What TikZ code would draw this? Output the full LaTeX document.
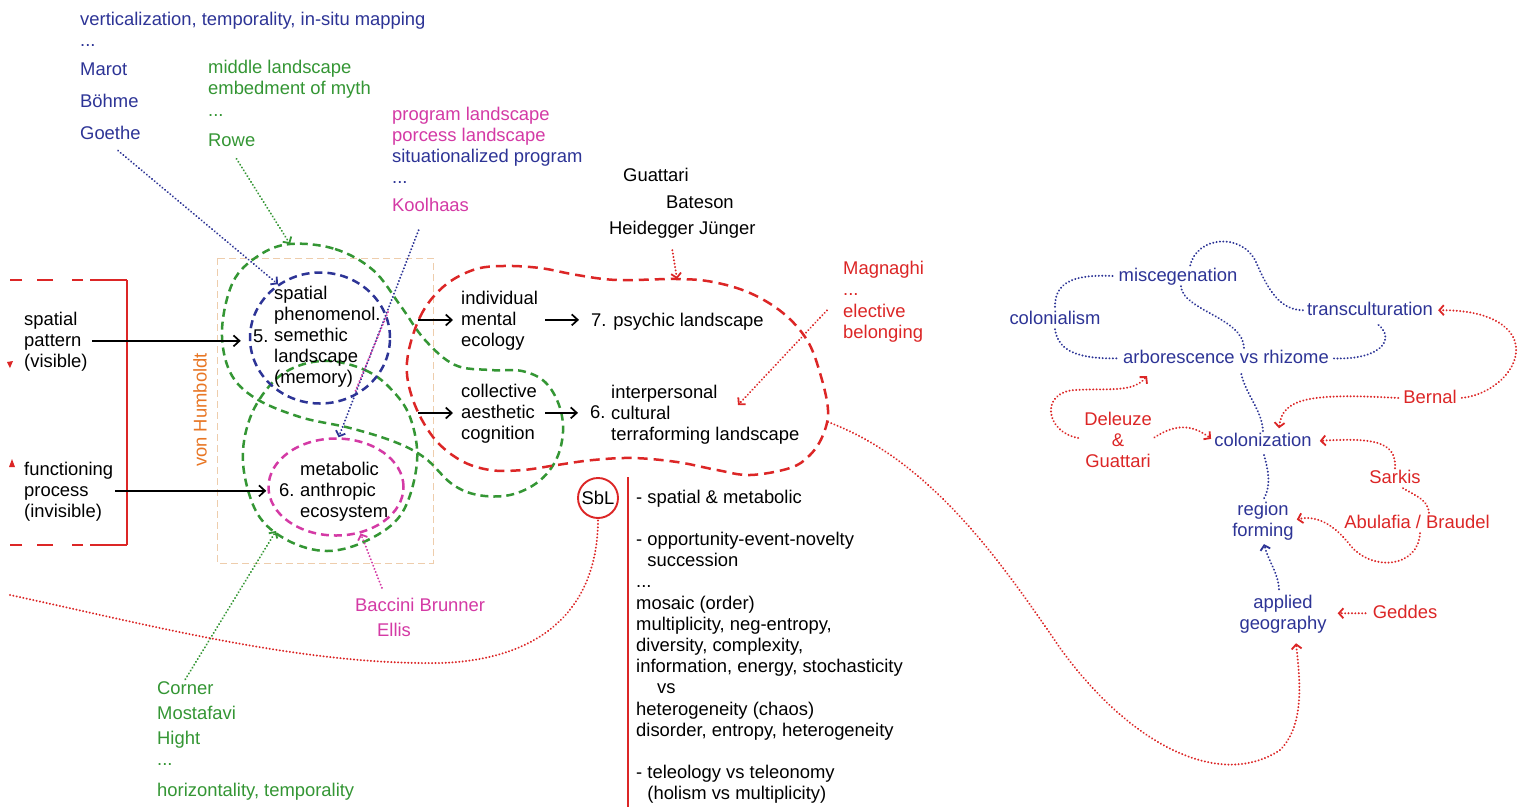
\documentclass[tikz,border=0pt]{standalone}
\usepackage{fontspec}
\setmainfont{Liberation Sans}
\usetikzlibrary{arrows.meta,shapes.geometric,calc}
\definecolor{cblue}{RGB}{45,52,150}
\definecolor{cgreen}{RGB}{52,150,52}
\definecolor{cmag}{RGB}{212,58,165}
\definecolor{cred}{RGB}{220,38,38}
\definecolor{corange}{RGB}{232,118,36}
\definecolor{ctan}{RGB}{238,205,172}
\newcommand\mystrut{\rule[-5pt]{0pt}{19.5pt}}
\tikzset{
  tl/.style={inner sep=0pt, anchor=north west, yshift=9.7pt, align=left, font=\fontsize{18.4}{21.2}\selectfont},
  tc/.style={tl, anchor=north, align=center},
  dotl/.style={line width=2.1pt, dash pattern=on 0.1pt off 3.3pt, line cap=round},
  dtip/.style={-{Straight Barb[length=4.5pt,width=10pt,line width=1.8pt]}},
  barr/.style={line width=1.7pt, -{Straight Barb[length=6pt,width=11pt]}},
  gdash/.style={line width=2.5pt, dash pattern=on 8pt off 5pt},
  rdash/.style={line width=2.5pt, dash pattern=on 10pt off 6pt},
  brk/.style={cred, line width=2.2pt, dash pattern=on 37pt off 7pt on 11pt off 19pt on 16pt off 15pt on 12pt off 30pt},
}
\begin{document}
\begin{tikzpicture}[x=1pt,y=-1pt]
\fill[white] (0,0) rectangle (1530,807);
\useasboundingbox (0,0) rectangle (1530,807);

% ---------- background shapes ----------
\draw[ctan, line width=1pt, dash pattern=on 7pt off 4pt] (217,258) rectangle (433,563);

\draw[cgreen, gdash] plot[smooth cycle, tension=0.6] coordinates {
 (290,244) (335,249) (373,270) (400,305) (425,340) (455,365) (490,370) (522,371)
 (545,382) (559,405) (563,432) (556,460) (538,482) (510,495) (478,495) (452,484)
 (425,458) (395,442) (350,428) (300,417) (255,398) (230,372) (222,330) (233,282) (258,256)};
\draw[cgreen, gdash] plot[smooth cycle, tension=0.6] coordinates {
 (330,361) (365,370) (390,388) (410,417) (417,462) (402,513) (368,540) (327,551)
 (287,540) (257,513) (243,463) (250,418) (272,383) (298,366)};

\node[ellipse, draw=cblue, gdash, minimum width=140pt, minimum height=131pt, inner sep=0pt] (blueE) at (320,338) {};
\node[ellipse, draw=cmag, gdash, minimum width=135pt, minimum height=97pt, inner sep=0pt] (magE) at (336,487) {};

\draw[cred, rdash] plot[smooth cycle, tension=0.6] coordinates {
 (407,362) (420,317) (443,287) (473,270) (503,266) (540,268) (577,275) (617,280)
 (677,279) (713,282) (750,293) (783,313) (807,340) (820,373) (828,410) (823,435)
 (810,455) (790,468) (750,475) (717,470) (677,462) (633,458) (593,460) (557,465)
 (523,470) (490,470) (460,460) (433,437) (413,400)};

\coordinate (gtop) at (290,244);
\coordinate (gB1) at (276,531);
\coordinate (rbtop) at (677,279);
\coordinate (rbin) at (738,405);
\coordinate (rb1) at (828,422);
\coordinate (lc0) at (10,595);
\coordinate (mg1) at (388,312);
\coordinate (mg2) at (355,392);
\coordinate (a1) at (418,320);
\coordinate (a2) at (418,413);

% red bracket
\coordinate (bk0) at (10,280); \coordinate (bk1) at (127,280);
\coordinate (bk2) at (127,545); \coordinate (bk3) at (10,545);
\draw[brk] (bk1) -- (bk0);
\draw[brk] (bk2) -- (bk3);
\draw[cred, line width=2.2pt] (bk1) -- (bk2);
\fill[cred] (7,362) -- (13,361) -- (10,368) -- cycle;
\fill[cred] (9,467) -- (12,459) -- (15,467) -- cycle;

% red vertical rule
\coordinate (rv0) at (628,477); \coordinate (rv1) at (628,807);
\draw[cred, line width=2.2pt] (rv0) -- (rv1);

% ---------- texts ----------
\node[tl,text=cblue] (vert) at (80,20) {\mystrut verticalization, temporality, in-situ mapping};
\node[tl,text=cblue] (bdots) at (80,41) {\mystrut ...};
\node[tl,text=cblue] (marot) at (80,70) {\mystrut Marot};
\node[tl,text=cblue] (bohme) at (80,102) {\mystrut Böhme};
\node[tl,text=cblue] (goethe) at (80,134) {\mystrut Goethe};
\node[tl,text=cgreen] (midl) at (208,68) {\mystrut middle landscape\\embedment of myth};
\node[tl,text=cgreen] (gdots) at (208,111) {\mystrut ...};
\node[tl,text=cgreen] (rowe) at (208,141) {\mystrut Rowe};
\node[tl,text=cmag] (prog) at (392,115) {\mystrut program landscape\\porcess landscape};
\node[tl,text=cblue] (situ) at (392,157) {\mystrut situationalized program};
\node[tl,text=cblue] (sdots) at (392,178) {\mystrut ...};
\node[tl,text=cmag] (kool) at (392,206) {\mystrut Koolhaas};
\node[tl] (guat) at (623,176) {\mystrut Guattari};
\node[tl] (bate) at (666,203) {\mystrut Bateson};
\node[tl] (heid) at (609,229) {\mystrut Heidegger Jünger};
\node[tl,text=cred] (magn) at (843,269) {\mystrut Magnaghi};
\node[tl,text=cred] (rdots) at (843,290) {\mystrut ...};
\node[tl,text=cred] (elect) at (843,312) {\mystrut elective\\belonging};

\node[tl] (sp) at (24,320) {\mystrut spatial\\pattern\\(visible)};
\node[tl] (fp) at (24,470) {\mystrut functioning\\process\\(invisible)};
\node[rotate=90, text=corange, inner sep=0pt, font=\fontsize{18.4}{21.2}\selectfont] (humb) at (200,410) {von Humboldt};

\node[tl] (semt) at (274,294) {\mystrut spatial\\phenomenol.\\semethic\\landscape\\(memory)};
\node[tl] (n5) at (253,337) {\mystrut 5.};
\node[tl] (metab) at (300,470) {\mystrut metabolic\\anthropic\\ecosystem};
\node[tl] (n6a) at (279,491) {\mystrut 6.};

\node[tl] (ind) at (461,299) {\mystrut individual\\mental\\ecology};
\node[tl] (col) at (461,392) {\mystrut collective\\aesthetic\\cognition};
\node[tl] (psy) at (591,321) {\mystrut 7. psychic landscape};
\node[tl] (inter) at (611,393) {\mystrut interpersonal\\cultural\\terraforming landscape};
\node[tl] (n6b) at (590,413) {\mystrut 6.};

\node[circle, draw=cred, line width=1.9pt, minimum size=40pt, inner sep=0pt, font=\fontsize{18.4}{21.2}\selectfont] (sbl) at (598,498) {SbL};

\node[tl] (list) at (636,498) {\mystrut - spatial \& metabolic\\[21.2pt]
- opportunity-event-novelty\\
\hspace*{11.2pt}succession\\
...\\
mosaic (order)\\
multiplicity, neg-entropy,\\
diversity, complexity,\\
information, energy, stochasticity\\
\hspace*{21pt}vs\\
heterogeneity (chaos)\\
disorder, entropy, heterogeneity\\[21.2pt]
- teleology vs teleonomy\\
\hspace*{11.2pt}(holism vs multiplicity)};

\node[tl,text=cgreen] (corner) at (157,689) {\mystrut Corner};
\node[tl,text=cgreen] (mosta) at (157,714) {\mystrut Mostafavi};
\node[tl,text=cgreen] (hight) at (157,739) {\mystrut Hight};
\node[tl,text=cgreen] (hdots) at (157,760) {\mystrut ...};
\node[tl,text=cgreen] (horiz) at (157,791) {\mystrut horizontality, temporality};
\node[tl,text=cmag] (bacc) at (355,606) {\mystrut Baccini Brunner};
\node[tl,text=cmag] (ellis) at (377,631) {\mystrut Ellis};

\node[tc,text=cblue] (misc) at (1178,276) {\mystrut miscegenation};
\node[tc,text=cblue] (colon) at (1055,319) {\mystrut colonialism};
\node[tc,text=cblue] (transc) at (1370,310) {\mystrut transculturation};
\node[tc,text=cblue] (arbor) at (1226,358) {\mystrut arborescence vs rhizome};
\node[tc,text=cblue] (coloniz) at (1263,441) {\mystrut colonization};
\node[tc,text=cred] (bernal) at (1430,398) {\mystrut Bernal};
\node[tc,text=cred] (del) at (1118,420) {\mystrut Deleuze\\\&\\Guattari};
\node[tc,text=cred] (sarkis) at (1395,478) {\mystrut Sarkis};
\node[tc,text=cred] (abul) at (1417,523) {\mystrut Abulafia / Braudel};
\node[tc,text=cblue] (region) at (1263,510) {\mystrut region\\forming};
\node[tc,text=cblue] (applied) at (1283,603) {\mystrut applied\\geography};
\node[tc,text=cred] (geddes) at (1405,613) {\mystrut Geddes};

% ---------- black arrows ----------
\draw[barr, shorten <=4.5pt, shorten >=8pt] (sp.east) -- (sp.east -| blueE.west);
\draw[barr, shorten <=2pt, shorten >=1pt] (fp.east) -- (fp.east -| magE.west);
\draw[barr, shorten >=8pt] (a1) -- (a1 -| ind.west);
\draw[barr, shorten >=8pt] (a2) -- (a2 -| col.west);
\draw[barr, shorten <=7pt, shorten >=12pt] (ind.east) -- (ind.east -| psy.west);
\draw[barr, shorten <=8pt, shorten >=12pt] (col.east) -- (col.east -| n6b.west);

% ---------- dotted connectors, left part ----------
\draw[dotl, cblue, dtip, shorten <=10pt] (goethe.south) -- (blueE.128);
\draw[dotl, cgreen, dtip, shorten <=9pt] (rowe.south) -- (gtop);
\draw[dotl, cblue, dtip] ($(kool.south)+(-12,14)$) -- (magE.87);
\draw[dotl, cmag] (mg1) -- (mg2);
\draw[dotl, cgreen, dtip] (corner.north) -- (gB1);
\draw[dotl, cmag, dtip, shorten <=9pt] ($(bacc.north)+(-35,0)$) -- (magE.-62);
\draw[dotl, cred, dtip] ($(heid.south)+(-10,11)$) -- (rbtop);
\draw[dotl, cred, dtip] ($(elect.west)+(-16,-12)$) -- (rbin);
\draw[dotl, cred] (lc0) .. controls (150,625) and (300,665) .. (440,663)
      .. controls (540,660) and (598,610) .. (sbl.south);
\draw[dotl, cred, dtip] (rb1) .. controls (930,460) and (1000,560) .. (1060,648)
      .. controls (1130,745) and (1220,790) .. (1280,750)
      .. controls (1305,725) and (1300,680) .. ($(applied.south)+(13,10)$);

% ---------- right network ----------
\draw[dotl, cblue, shorten <=6pt] (misc.west) .. controls (1070,274) and (1054,284) .. (colon.north);
\draw[dotl, cblue, shorten >=5pt] (colon.south) .. controls (1058,352) and (1080,359) .. (arbor.west);
\draw[dotl, cblue] ($(misc.south)+(3,0)$) .. controls (1182,310) and (1244,318) .. ($(arbor.north)+(18,0)$);
\draw[dotl, cblue, shorten <=4pt] (transc.west) .. controls (1280,310) and (1268,290) .. (1256,262)
      .. controls (1242,232) and (1196,236) .. ($(misc.north)+(12,0)$);
\draw[dotl, cblue, shorten <=5pt] (arbor.east) .. controls (1385,360) and (1396,336) .. ($(transc.south)+(6,3)$);
\draw[dotl, cblue, shorten <=6pt] ($(arbor.south)+(14,0)$) .. controls (1246,395) and (1262,410) .. (coloniz.north);
\draw[dotl, cblue, shorten <=4pt] (coloniz.south) .. controls (1268,470) and (1272,485) .. (region.north);
\draw[dotl, cblue, dtip, shorten <=4pt, shorten >=4pt] ($(applied.north)+(-4,0)$) .. controls (1279,575) and (1268,560) .. (region.south);

\draw[dotl, cred, dtip, shorten <=3pt, shorten >=4pt] (del.east) .. controls (1175,424) and (1192,424) .. (coloniz.west);
\draw[dotl, cred, dtip, shorten <=6pt] (del.west) .. controls (1045,432) and (1040,392) .. (1075,390)
      .. controls (1110,388) and (1132,393) .. ($(arbor.south west)+(24,8)$);
\draw[dotl, cred, dtip, shorten <=5pt] (bernal.west) .. controls (1310,393) and (1282,398) .. ($(coloniz.north)+(16,-3)$);
\draw[dotl, cred, dtip, shorten <=5pt, shorten >=5pt] (bernal.east) .. controls (1495,395) and (1528,362) .. (1512,335)
      .. controls (1498,314) and (1465,310) .. (transc.east);
\draw[dotl, cred, dtip, shorten >=8pt] (sarkis.north) .. controls (1397,440) and (1370,438) .. (coloniz.east);
\draw[dotl, cred] ($(sarkis.south)+(8,0)$) .. controls (1418,497) and (1428,500) .. ($(abul.north)+(12,0)$);
\draw[dotl, cred, dtip, shorten >=3pt] ($(abul.south)+(3,0)$) .. controls (1418,568) and (1372,572) .. (1350,545)
      .. controls (1333,523) and (1315,515) .. (region.east);
\draw[dotl, cred, dtip, shorten <=7pt, shorten >=11pt] (geddes.west) -- (applied.east);
\end{tikzpicture}
\end{document}
